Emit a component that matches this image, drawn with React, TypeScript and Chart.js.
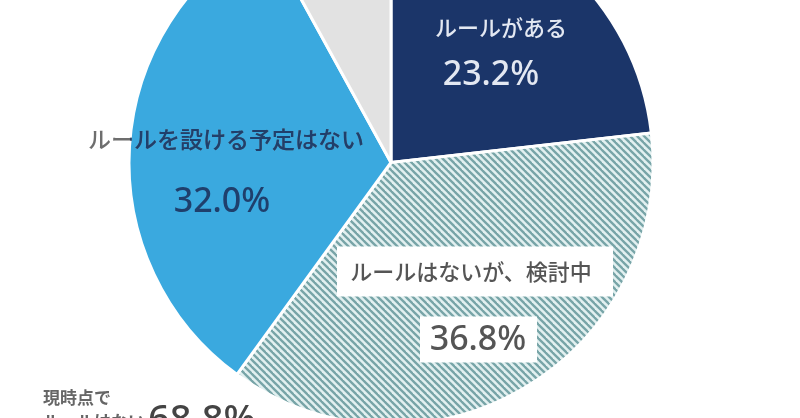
import React, { useEffect, useRef } from "react";
import { Chart, registerables } from "chart.js";

Chart.register(...registerables);

// ---- data ----
const categories = ["ルールがある", "ルールはないが、検討中", "ルールを設ける予定はない", "わからない"];
const values = [23.2, 36.8, 32.0, 8.0];
const summaryLabel = ["現時点で", "ルールはない"];
const sliceColors = ["#1b3569", "hatch", "#3aa9df", "#e2e2e2"];

const JP = "'Noto Sans CJK JP', 'Noto Sans', sans-serif";
const NUM = "'Noto Sans', 'Noto Sans CJK JP', sans-serif";

function makeHatch(): CanvasPattern | string {
  const c = document.createElement("canvas");
  const s = 7;
  c.width = s;
  c.height = s;
  const g = c.getContext("2d");
  if (!g) return "#9fbfc0";
  g.fillStyle = "#e2f0f0";
  g.fillRect(0, 0, s, s);
  g.strokeStyle = "#77a4a7";
  g.lineWidth = 2.3;
  for (let k = -1; k <= 1; k++) {
    g.beginPath();
    g.moveTo(k * s - 1, -1);
    g.lineTo(k * s + s + 1, s + 1);
    g.stroke();
  }
  const p = g.createPattern(c, "repeat");
  return p || "#9fbfc0";
}

const labelPlugin = {
  id: "sliceLabels",
  afterDraw(chart: any) {
    const ctx: CanvasRenderingContext2D = chart.ctx;
    const arc = chart.getDatasetMeta(0).data[0];
    if (!arc) return;
    const cx = arc.x;
    const cy = arc.y;
    const r = arc.outerRadius;
    const pct = (v: number) => `${v.toFixed(1)}%`;
    ctx.save();
    ctx.textAlign = "center";
    ctx.textBaseline = "middle";

    // slice 0: ルールがある
    ctx.fillStyle = "#e3e8f2";
    ctx.font = `500 22px ${JP}`;
    ctx.fillText(categories[0], cx + 110, cy - 135);
    ctx.font = `500 34px ${NUM}`;
    ctx.fillText(pct(values[0]), cx + 100, cy - 87);

    // slice 1: hatched, with white boxes
    ctx.fillStyle = "#ffffff";
    ctx.fillRect(cx - 54, cy + 84, 276, 50);
    ctx.fillRect(cx + 29, cy + 154, 117, 46);
    ctx.fillStyle = "#555555";
    ctx.font = `500 22px ${JP}`;
    ctx.fillText(categories[1], cx + 80, cy + 109);
    ctx.font = `500 34px ${NUM}`;
    ctx.fillText(pct(values[1]), cx + 87, cy + 178);

    // slice 2: light blue, label overflowing to the left
    ctx.font = `500 23px ${JP}`;
    ctx.fillStyle = "#6e6e6e";
    ctx.fillText(categories[2], cx - 165, cy - 23);
    ctx.save();
    ctx.beginPath();
    ctx.arc(cx, cy, r, 0, Math.PI * 2);
    ctx.clip();
    ctx.fillStyle = "#1f3f6c";
    ctx.fillText(categories[2], cx - 165, cy - 23);
    ctx.restore();
    ctx.fillStyle = "#1f3f6c";
    ctx.font = `500 34px ${NUM}`;
    ctx.fillText(pct(values[2]), cx - 169, cy + 40);

    // summary bottom-left
    ctx.textAlign = "left";
    ctx.textBaseline = "top";
    ctx.fillStyle = "#666666";
    ctx.font = `bold 17px ${JP}`;
    ctx.fillText(summaryLabel[0], cx - 348, cy + 227);
    ctx.fillText(summaryLabel[1], cx - 348, cy + 251);
    ctx.textBaseline = "alphabetic";
    ctx.fillStyle = "#444444";
    ctx.font = `500 38px ${NUM}`;
    ctx.fillText(pct(values[1] + values[2]), cx - 243, cy + 269);
    ctx.restore();
  },
};

export default function App() {
  const ref = useRef<HTMLCanvasElement | null>(null);
  useEffect(() => {
    document.body.style.margin = "0";
    const canvas = ref.current;
    if (!canvas) return;
    const hatch = makeHatch();
    const bg = sliceColors.map((c) => (c === "hatch" ? hatch : c));
    const chart = new Chart(canvas, {
      type: "pie",
      data: {
        labels: categories,
        datasets: [
          {
            data: values,
            backgroundColor: bg as any,
            borderColor: "#ffffff",
            borderWidth: 3,
            hoverOffset: 0,
          },
        ],
      },
      options: {
        responsive: false,
        animation: false,
        devicePixelRatio: 1,
        layout: { padding: { top: 36, bottom: 37, left: 0, right: 18 } },
        plugins: {
          legend: { display: false },
          tooltip: { enabled: false },
        },
      },
      plugins: [labelPlugin],
    });
    return () => chart.destroy();
  }, []);
  return (
    <div
      style={{
        position: "fixed",
        left: 0,
        top: 0,
        width: 800,
        height: 418,
        overflow: "hidden",
        background: "#ffffff",
      }}
    >
      <canvas
        ref={ref}
        width={800}
        height={600}
        style={{ position: "absolute", left: 0, top: -137, width: 800, height: 600 }}
      />
    </div>
  );
}
